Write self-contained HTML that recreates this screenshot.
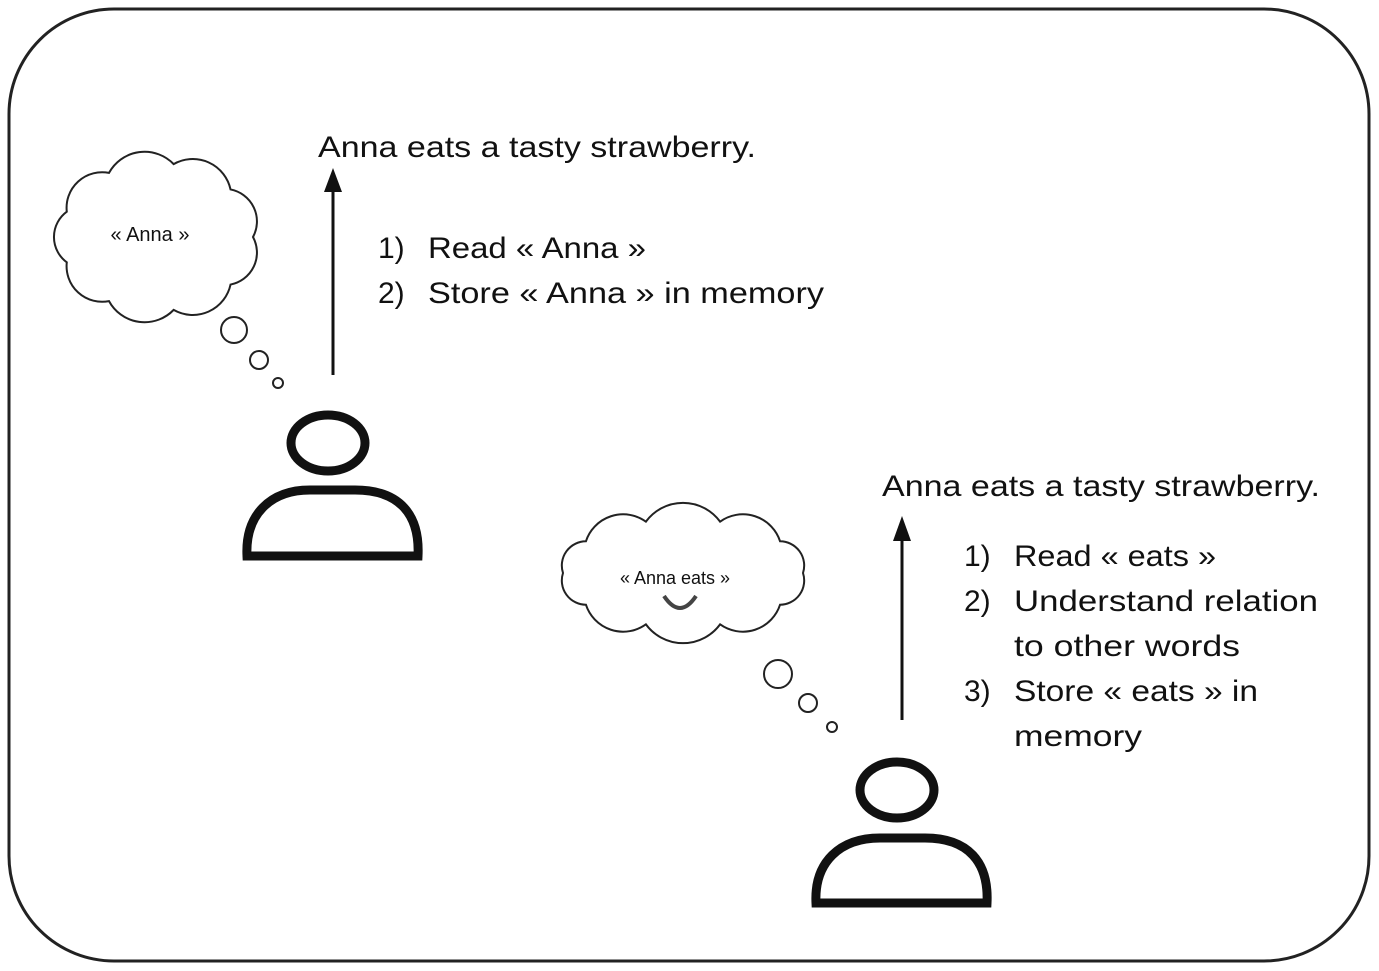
<!DOCTYPE html>
<html><head><meta charset="utf-8"><style>
html,body{margin:0;padding:0;background:#fff}
svg{display:block}
text{font-family:"Liberation Sans",sans-serif;fill:#111}
</style></head><body>
<svg id="s" width="1379" height="971" viewBox="0 0 1379 971">
<rect x="9" y="9" width="1360" height="952" rx="105" fill="#fff" stroke="#222" stroke-width="3"/>

<g id="clouds"></g>

<text x="318" y="157" font-size="30" textLength="438" lengthAdjust="spacingAndGlyphs">Anna eats a tasty strawberry.</text>
<text x="378" y="258" font-size="30">1)</text>
<text x="428" y="258" font-size="30" textLength="218" lengthAdjust="spacingAndGlyphs">Read « Anna »</text>
<text x="378" y="303" font-size="30">2)</text>
<text x="428" y="303" font-size="30" textLength="396" lengthAdjust="spacingAndGlyphs">Store « Anna » in memory</text>

<text x="882" y="496" font-size="30" textLength="438" lengthAdjust="spacingAndGlyphs">Anna eats a tasty strawberry.</text>
<text x="964" y="566" font-size="30">1)</text>
<text x="1014" y="566" font-size="30" textLength="202" lengthAdjust="spacingAndGlyphs">Read « eats »</text>
<text x="964" y="611" font-size="30">2)</text>
<text x="1014" y="611" font-size="30" textLength="304" lengthAdjust="spacingAndGlyphs">Understand relation</text>
<text x="1014" y="656" font-size="30" textLength="226" lengthAdjust="spacingAndGlyphs">to other words</text>
<text x="964" y="701" font-size="30">3)</text>
<text x="1014" y="701" font-size="30" textLength="244" lengthAdjust="spacingAndGlyphs">Store « eats » in</text>
<text x="1014" y="746" font-size="30" textLength="128" lengthAdjust="spacingAndGlyphs">memory</text>

<g>
<line x1="333" y1="375" x2="333" y2="190" stroke="#111" stroke-width="3"/>
<polygon points="333,168 324,192 342,192" fill="#111"/>
</g>
<g>
<line x1="902" y1="720" x2="902" y2="540" stroke="#111" stroke-width="3"/>
<polygon points="902,516 893,541 911,541" fill="#111"/>
</g>

<g fill="none" stroke="#111" stroke-width="9" stroke-linecap="round">
<ellipse cx="328" cy="443" rx="37" ry="28"/>
<path d="M247,556 C245,515 270,490 310,490 L355,490 C400,490 420,515 418,556 Z"/>
</g>
<g fill="none" stroke="#111" stroke-width="9" stroke-linecap="round">
<ellipse cx="897" cy="790" rx="37" ry="28"/>
<path d="M816,903 C814,862 840,838 880,838 L925,838 C968,838 989,862 987,903 Z"/>
</g>

<text x="150" y="241" font-size="20" text-anchor="middle">« Anna »</text>
<text x="675" y="584" font-size="18" text-anchor="middle">« Anna eats »</text>
<path d="M664,596 Q680,620 696,596" fill="none" stroke="#444" stroke-width="4"/>
</svg>
<script>
const g=document.getElementById('clouds');
function cloud(cx,cy,rx,ry,n,name){
  let d='';
  for(let i=0;i<n;i++){
    const a=i/n*2*Math.PI, x=cx+rx*Math.cos(a), y=cy+ry*Math.sin(a);
    const b=(i+1)/n*2*Math.PI, x2=cx+rx*Math.cos(b), y2=cy+ry*Math.sin(b);
    const r=Math.hypot(x2-x,y2-y)*0.62;
    d+=(i==0?'M'+x+','+y:'')+' A'+r+','+r+' 0 0,1 '+x2+','+y2;
  }
  const p=document.createElementNS('http://www.w3.org/2000/svg','path');
  p.setAttribute('d',d+'Z');p.setAttribute('fill','#fff');p.setAttribute('stroke','#222');p.setAttribute('stroke-width','2');
  
  
  g.appendChild(p);
}
function bub(cx,cy,r){
  const c=document.createElementNS('http://www.w3.org/2000/svg','circle');
  c.setAttribute('cx',cx);c.setAttribute('cy',cy);c.setAttribute('r',r);
  c.setAttribute('fill','#fff');c.setAttribute('stroke','#222');c.setAttribute('stroke-width','2');
  
  
  g.appendChild(c);
}
cloud(157,237,96,74,9,'thought-cloud-1');
bub(234,330,13);bub(259,360,9);bub(278,383,5);
cloud(683,573,120,54,10,'thought-cloud-2');
bub(778,674,14);bub(808,703,9);bub(832,727,5);
</script>
</body></html>
